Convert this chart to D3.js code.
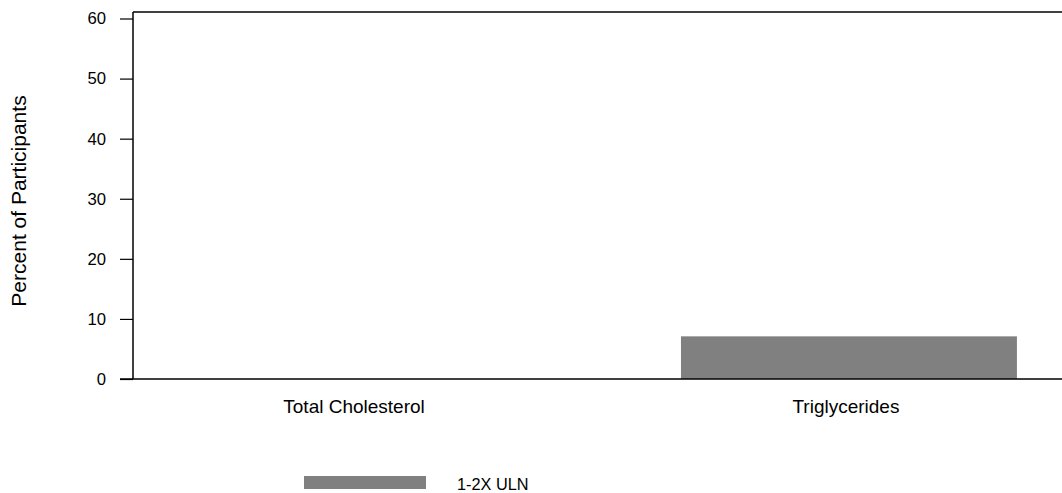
<!DOCTYPE html>
<html><head><meta charset="utf-8">
<script src="https://cdn.jsdelivr.net/npm/d3@7"></script>
<style>body{margin:0;background:#fff}svg{display:block}text{font-family:"Liberation Sans",Arial,sans-serif;fill:#000}</style>
</head><body>
<script>
const categories = ["Total Cholesterol", "Triglycerides"];
const seriesName = "1-2X ULN";
const values = [0, 7.1];
const yTicks = [0, 10, 20, 30, 40, 50, 60];

const W = 1062, H = 493;
const L = 133, T = 12, B = 379, R = 1073;
const svg = d3.select("body").append("svg").attr("width", W).attr("height", H);

const y = d3.scaleLinear().domain([0, 60]).range([B, 18.5]);
const x = d3.scaleBand().domain(categories).range([L, R]).paddingInner(0.317).paddingOuter(0.114);

// bars
svg.selectAll("rect.bar").data(values).join("rect")
  .attr("x", (d, i) => x(categories[i]))
  .attr("width", x.bandwidth())
  .attr("y", d => y(d))
  .attr("height", d => B - y(d))
  .attr("fill", "#808080");

// frame top line
svg.append("line").attr("x1", L).attr("x2", W).attr("y1", T).attr("y2", T).attr("stroke", "#000").attr("stroke-width", 1.5);
// left axis line
svg.append("line").attr("x1", L).attr("x2", L).attr("y1", T).attr("y2", B).attr("stroke", "#000").attr("stroke-width", 1.5);
// bottom axis line
svg.append("line").attr("x1", L - 13).attr("x2", W).attr("y1", B).attr("y2", B).attr("stroke", "#000").attr("stroke-width", 1.5);

const yAxis = svg.append("g").attr("transform", `translate(${L},0)`)
  .call(d3.axisLeft(y).tickValues(yTicks).tickSize(13).tickPadding(14));
yAxis.select(".domain").remove();
yAxis.selectAll("line").attr("stroke", "#000").attr("stroke-width", 1.2);
yAxis.selectAll("text").style("font-size", "16.7px").style("font-family", '"Liberation Sans",Arial,sans-serif');

const xAxis = svg.append("g").attr("transform", `translate(0,${B})`)
  .call(d3.axisBottom(x).tickSize(0).tickPadding(21));
xAxis.select(".domain").remove();
xAxis.selectAll("text").attr("dx", -3).style("font-size", "19px").style("font-family", '"Liberation Sans",Arial,sans-serif');

svg.append("text").attr("transform", "translate(26,201) rotate(-90)")
  .attr("text-anchor", "middle").style("font-size", "21px").text("Percent of Participants");

// legend
svg.append("rect").attr("x", 304).attr("y", 476).attr("width", 122).attr("height", 13).attr("fill", "#808080");
svg.append("text").attr("x", 457).attr("y", 490).style("font-size", "16.3px").text(seriesName);
</script>
</body></html>
